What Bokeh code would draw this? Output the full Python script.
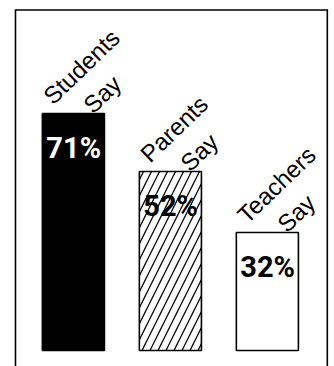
from bokeh.plotting import figure
from bokeh.models import ColumnDataSource, Range1d
from bokeh.core.properties import value
from bokeh.embed import file_html
from bokeh.resources import INLINE
import math

# --- data ---
groups = ["Students", "Parents", "Teachers"]
second_line = ["Say", "Say", "Say"]
percents = [71, 52, 32]
pct_labels = ["71%", "52%", "32%"]

# --- styles ---
fills = ["black", "white", "white"]
hatches = [" ", "/", " "]
pct_colors = ["white", "black", "black"]

idx = list(range(len(groups)))
BAR_W = 0.64
BAR_BASE = -6.7

src = ColumnDataSource(dict(
    x=idx,
    left=[i - BAR_W / 2 for i in idx],
    top=percents,
    fill=fills,
    hatch=hatches,
    g=groups,
    s=second_line,
    lab=pct_labels,
    labc=pct_colors,
))

p = figure(width=334, height=366, output_backend="svg", toolbar_location=None,
           x_axis_type=None, y_axis_type=None,
           x_range=Range1d(-0.7515, 2.692), y_range=Range1d(-11.93, 108.07),
           min_border=0, min_border_left=0, min_border_right=0,
           min_border_top=0, min_border_bottom=0)
p.outline_line_color = None
p.grid.visible = False
p.background_fill_color = "white"
p.border_fill_color = "white"

# frame (open at bottom)
FL, FR, FT, FB = -0.597, 2.618, 104.95, -30
p.line(x=[FL, FL, FR, FR], y=[FB, FT, FT, FB], line_color="black",
       line_width=1.6, line_join="miter")

p.vbar(x="x", width=BAR_W, top="top", bottom=BAR_BASE, source=src,
       fill_color="fill", line_color="black", line_width=1.6,
       hatch_pattern="hatch", hatch_color="black", hatch_scale=16,
       hatch_weight=1.3)

ang = math.radians(44)
p.text(x="left", y="top", text="g", source=src, angle=ang,
       x_offset=5, y_offset=-14, text_align="left", text_baseline="alphabetic",
       text_font=value("Liberation Sans"), text_font_size="24px",
       text_color="black")
p.text(x="left", y="top", text="s", source=src, angle=ang,
       x_offset=45, y_offset=-5, text_align="left", text_baseline="alphabetic",
       text_font=value("Liberation Sans"), text_font_size="24px",
       text_color="black")

p.text(x="left", y="top", text="lab", source=src,
       x_offset=4, y_offset=34, text_align="left", text_baseline="alphabetic",
       text_font=value("Roboto"), text_font_style="bold",
       text_font_size="29px", text_color="labc")

open("out.html", "w").write(file_html(p, INLINE))
